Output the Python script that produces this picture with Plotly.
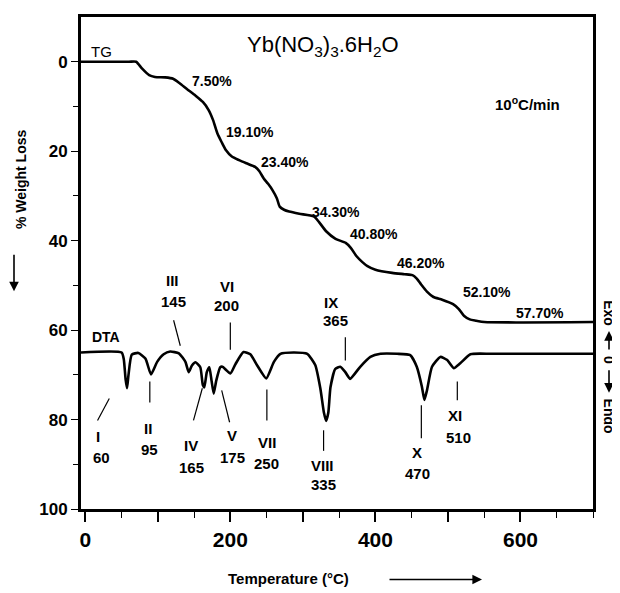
import plotly.graph_objects as go

# ---------------- data ----------------
tg_temp = [-6, 60, 70, 78, 88, 96, 110, 121, 130, 140, 152, 162, 170, 176, 182, 188, 194, 202, 212, 222,
           234, 240, 246, 252, 258, 264, 268, 274, 281, 295, 315, 322, 332, 345, 359, 366, 374, 382, 389, 400,
           423, 440, 451, 457, 463, 471, 480, 492, 507, 515, 522, 530, 539, 550, 700]
tg_loss = [0, 0, 0, 1.5, 3.0, 3.4, 3.5, 3.8, 4.8, 6.1, 7.6, 9.0, 10.8, 13.0, 16.0, 18.0, 19.8, 21.2, 22.0, 22.7,
           23.5, 24.5, 26.1, 27.3, 28.7, 30.5, 32.4, 33.1, 33.5, 34.0, 34.6, 35.8, 37.9, 39.6, 40.5, 41.6, 43.5, 44.8, 45.7, 46.5,
           47.2, 47.5, 47.7, 48.5, 49.8, 51.4, 52.6, 53.2, 54.2, 55.3, 56.8, 57.6, 57.9, 58.2, 58.2]
tg_step_labels = ["7.50%", "19.10%", "23.40%", "34.30%", "40.80%", "46.20%", "52.10%", "57.70%"]

dta_temp = [-6, 50, 53, 55.5, 57.5, 59.5, 64, 73, 83, 90.5, 99, 108, 117, 129, 138, 142.5, 147, 152, 158.5, 162,
            164, 167.5, 171, 174, 177, 180.5, 186, 189, 200, 207, 218, 227.5, 237, 249.5, 260, 269, 287, 306, 317, 324,
            329, 332, 335, 338, 344.5, 351.5, 358.5, 365, 379, 393, 407, 430, 448, 457, 464, 467.5, 471, 478, 489.5, 499,
            508, 517, 531, 560, 700]
dta_signal = [65, 65, 66.5, 71, 73, 70, 65.5, 65.1, 66.4, 69.9, 67.1, 65.4, 64.8, 65.2, 67.1, 69.4, 67.9, 67.2, 68.3, 72.3,
              72.8, 69.4, 68.3, 71.3, 74.2, 71.3, 68.3, 68.2, 69.7, 67.6, 64.9, 65.4, 67.9, 70.8, 67.1, 65.3, 65, 65.3, 67.8, 73,
              78.5, 80.3, 78.5, 72.8, 68.7, 68.2, 69.4, 70.9, 68.2, 66, 65.3, 65.3, 65.6, 68.2, 72.6, 75.6, 73.5, 68.2, 66, 66.7,
              68.5, 67.4, 65.4, 65.3, 65.3]

peak_numerals = ["I", "II", "III", "IV", "V", "VI", "VII", "VIII", "IX", "X", "XI"]
peak_temps = [60, 95, 145, 165, 175, 200, 250, 335, 365, 470, 510]

x_tick_vals = [0, 100, 200, 300, 400, 500, 600]
x_tick_text = ["0", "", "200", "", "400", "", "600"]

# ---------------- layout placements (data coords) ----------------
step_label_pos = [(175, 4.2), (227.5, 15.7), (275, 22.4), (345, 33.5), (398, 38.5),
                  (463, 45.0), (553.5, 51.4), (626.5, 56.1)]
numeral_pos = [(16.8, 83.9), (86.2, 82.0), (119.5, 49.0), (145.4, 85.7), (202.6, 83.5), (195.3, 50.2),
               (250.3, 85.2), (326.7, 90.2), (338.7, 53.9), (457.7, 87.4), (510.0, 79.0)]
number_pos = [(22.3, 88.4), (87.9, 86.7), (120.9, 53.5), (146.5, 90.7), (202.6, 88.4), (195.3, 54.6),
              (250.3, 89.8), (328.5, 94.6), (344.7, 57.9), (457.7, 92.0), (514.3, 84.0)]
leader_lines = [((16.8, 80.2), (33.0, 75.3)), ((88.9, 71.5), (88.9, 76.2)), ((121.7, 57.8), (130.9, 63.5)),
                ((149.1, 80.2), (161.3, 73.0)), ((198.9, 80.6), (188.0, 73.5)), ((199.9, 58.3), (199.9, 64.4)),
                ((250.3, 73.3), (250.3, 80.2)), ((328.5, 82.4), (328.5, 87.0)), ((358.5, 61.6), (358.5, 66.8)),
                ((463.3, 76.8), (463.3, 84.2)), ((512.9, 71.5), (512.9, 75.7))]

FONT = "Liberation Sans, Arial, sans-serif"
x_range = [-6, 700]
y_range = [100, -10]

fig = go.Figure()
fig.add_trace(go.Scatter(x=tg_temp, y=tg_loss, mode="lines",
                         line=dict(color="black", width=2.6, shape="spline", smoothing=0.6),
                         showlegend=False, hoverinfo="skip"))
fig.add_trace(go.Scatter(x=dta_temp, y=dta_signal, mode="lines",
                         line=dict(color="black", width=2.6, shape="spline", smoothing=0.5),
                         showlegend=False, hoverinfo="skip"))

ann = []
def txt(x, y, s, size=14, bold=True, xref="x", yref="y", angle=0):
    ann.append(dict(x=x, y=y, xref=xref, yref=yref, text=("<b>%s</b>" % s) if bold else s,
                    showarrow=False, textangle=angle, xanchor="center", yanchor="middle",
                    font=dict(family=FONT, size=size, color="black")))

for (px, py), s in zip(step_label_pos, tg_step_labels):
    txt(px, py, s, 14)
for (px, py), s in zip(numeral_pos, peak_numerals):
    txt(px, py, s, 15)
for (px, py), t in zip(number_pos, peak_temps):
    txt(px, py, str(t), 15)

txt(327, -3.6, "Yb(NO<sub>3</sub>)<sub>3</sub>.6H<sub>2</sub>O", 22, bold=False)
txt(22, -2.3, "TG", 15, bold=False)
txt(29, 61.5, "DTA", 14)
txt(609, 9.4, "10<sup>o</sup>C/min", 15)

# page pixels -> paper coords (page has an 8px body margin)
def pxp(px):
    return (px - 81) / 512.0
def pyp(py):
    return (509 - py) / 495.0

txt(pxp(288), pyp(579), "Temperature (°C)", 15, xref="paper", yref="paper")
txt(pxp(21), pyp(177), "% Weight Loss", 14, xref="paper", yref="paper", angle=-90)
txt(pxp(609), pyp(312), "Exo", 14, xref="paper", yref="paper", angle=90)
txt(pxp(609), pyp(359), "0", 14, xref="paper", yref="paper", angle=90)
txt(pxp(609), pyp(415), "Endo", 14, xref="paper", yref="paper", angle=90)

def arrow(hx, hy, ax, ay):
    ann.append(dict(x=pxp(hx), y=pyp(hy), xref="paper", yref="paper", ax=ax, ay=ay,
                    showarrow=True, arrowhead=2, arrowsize=1.2, arrowwidth=1.6, arrowcolor="black", text=""))

arrow(14, 290, 0, -38)     # y-axis arrow (down)
arrow(482, 580, -94, 0)    # x-axis arrow (right)
arrow(609, 330, 0, 20)     # exo arrow (up)
arrow(609, 392, 0, -24)    # endo arrow (down)

shapes = []
for (a, b) in leader_lines:
    shapes.append(dict(type="line", xref="x", yref="y", x0=a[0], y0=a[1], x1=b[0], y1=b[1],
                       line=dict(color="black", width=1.2)))

zero_pos = (y_range[0] - 0) / (y_range[0] - y_range[1])

fig.update_layout(
    width=612, height=585,
    margin=dict(l=73, r=27, t=6, b=84),
    paper_bgcolor="white", plot_bgcolor="white",
    annotations=ann, shapes=shapes,
    xaxis=dict(range=x_range, showgrid=False, zeroline=False, showline=True, linecolor="black", linewidth=2.8,
               mirror=True, ticks="outside", ticklen=10, tickwidth=1.5, tickcolor="black",
               tickmode="array", tickvals=x_tick_vals, ticktext=x_tick_text,
               tickfont=dict(family=FONT, size=21, color="black", weight="bold"),
               minor=dict(ticks="outside", ticklen=6, tickwidth=1.2, tickcolor="black", dtick=50, tick0=0)),
    xaxis2=dict(range=x_range, overlaying="x", anchor="free", position=zero_pos, side="top",
                showgrid=False, zeroline=False, showline=True, linecolor="black", linewidth=2.5,
                ticks="outside", ticklen=5, tickwidth=1.2, tickcolor="black",
                tickmode="array", tickvals=list(range(80, 700, 40)), showticklabels=False),
    xaxis3=dict(range=x_range, overlaying="x", anchor="free", position=zero_pos, side="top",
                showgrid=False, zeroline=False, showline=False,
                ticks="inside", ticklen=10, tickwidth=1.5, tickcolor="black",
                tickmode="array", tickvals=[200, 400, 600], showticklabels=False),
    xaxis4=dict(range=x_range, overlaying="x", anchor="y", side="bottom",
                showgrid=False, zeroline=False, showline=False,
                ticks="inside", ticklen=8, tickwidth=1.5, tickcolor="black",
                tickmode="array", tickvals=[100, 200, 300, 400, 500, 600], showticklabels=False),
    yaxis=dict(range=y_range, showgrid=False, zeroline=False, showline=True, linecolor="black", linewidth=2.8,
               mirror=True, ticks="outside", ticklen=7, tickwidth=1.2, tickcolor="black",
               tickmode="array", tickvals=[0, 20, 40, 60, 80, 100],
               tickfont=dict(family=FONT, size=17, color="black", weight="bold"),
               minor=dict(ticks="outside", ticklen=5, tickwidth=1.2, tickcolor="black",
                          tickmode="array", tickvals=[10, 30, 50, 70, 90])),
)

fig.write_html("out.html")
